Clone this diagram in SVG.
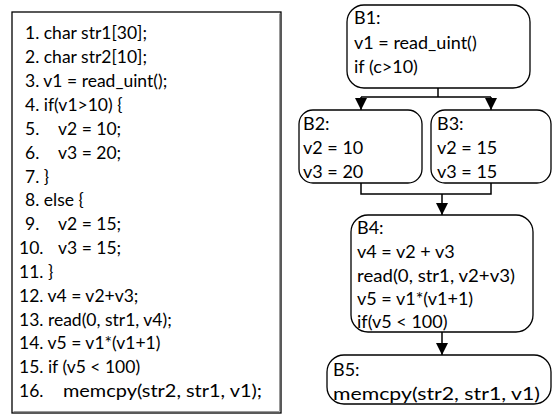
<svg xmlns="http://www.w3.org/2000/svg" width="552" height="416" viewBox="0 0 552 416">
<defs>
<marker id="ah" viewBox="0 0 12 12" refX="12" refY="6" markerWidth="12" markerHeight="12" markerUnits="userSpaceOnUse" orient="auto">
<path d="M0,0 L12,6 L0,12 z" fill="#000"/>
</marker>
</defs>
<style>
text{font-family:Lato,"Liberation Sans",sans-serif;font-size:17.5px;fill:#000}
.r text{font-size:18px}
.box{fill:#fff;stroke:#000;stroke-width:1.3}
.shadow{fill:none;stroke:#999;stroke-width:1}
.edge{fill:none;stroke:#000;stroke-width:1.5}
</style>
<rect width="552" height="416" fill="#fff"/>
<g id="code">
<rect x="12" y="12" width="269" height="401" class="box"/>
<path d="M13.5,411.5 H279.5 V13.5" class="shadow"/>
<text x="25" y="39">1. char str1[30];</text>
<text x="25" y="63">2. char str2[10];</text>
<text x="25" y="87">3. v1 = read_uint();</text>
<text x="25" y="111">4. if(v1&gt;10) {</text>
<text x="25" y="135">5.<tspan x="58">v2 = 10;</tspan></text>
<text x="25" y="159">6.<tspan x="58">v3 = 20;</tspan></text>
<text x="25" y="183">7. }</text>
<text x="25" y="206">8. else {</text>
<text x="25" y="230">9.<tspan x="58">v2 = 15;</tspan></text>
<text x="19" y="254">10.<tspan x="58">v3 = 15;</tspan></text>
<text x="19" y="278">11. }</text>
<text x="19" y="302">12. v4 = v2+v3;</text>
<text x="19" y="326">13. read(0, str1, v4);</text>
<text x="19" y="349">14. v5 = v1*(v1+1)</text>
<text x="19" y="373">15. if (v5 &lt; 100)</text>
<text x="19" y="397">16.</text>
<text x="63" y="397" textLength="199" lengthAdjust="spacingAndGlyphs">memcpy(str2, str1, v1);</text>
</g>
<g id="connectors">
<path d="M438,88 V97 M361,97 H491" class="edge"/>
<path d="M361,97 V110" class="edge" marker-end="url(#ah)"/>
<path d="M491,97 V110" class="edge" marker-end="url(#ah)"/>
<path d="M361,183 V194 H491 V183" class="edge"/>
<path d="M442,194 V215" class="edge" marker-end="url(#ah)"/>
<path d="M442,332 V355" class="edge" marker-end="url(#ah)"/>
</g>
<g id="B1" class="r">
<rect x="347" y="5" width="183" height="83" rx="17" class="box"/>
<text x="354" y="24">B1:</text>
<text x="354" y="49">v1 = read_uint()</text>
<text x="354" y="73">if (c&gt;10)</text>
</g>
<g id="B2" class="r">
<rect x="299" y="110" width="123" height="73" rx="14" class="box"/>
<text x="303" y="130">B2:</text>
<text x="303" y="154">v2 = 10</text>
<text x="303" y="178">v3 = 20</text>
</g>
<g id="B3" class="r">
<rect x="431" y="110" width="120" height="73" rx="14" class="box"/>
<text x="437" y="130">B3:</text>
<text x="437" y="154">v2 = 15</text>
<text x="437" y="178">v3 = 15</text>
</g>
<g id="B4" class="r">
<rect x="351" y="215" width="182" height="117" rx="17" class="box"/>
<text x="357" y="234">B4:</text>
<text x="357" y="258">v4 = v2 + v3</text>
<text x="357" y="282" textLength="158" lengthAdjust="spacingAndGlyphs">read(0, str1, v2+v3)</text>
<text x="357" y="305">v5 = v1*(v1+1)</text>
<text x="357" y="328">if(v5 &lt; 100)</text>
</g>
<g id="B5" class="r">
<rect x="327" y="355" width="224" height="49" rx="17" class="box"/>
<text x="333" y="376">B5:</text>
<text x="333" y="400" textLength="207" lengthAdjust="spacingAndGlyphs">memcpy(str2, str1, v1)</text>
</g>
</svg>
